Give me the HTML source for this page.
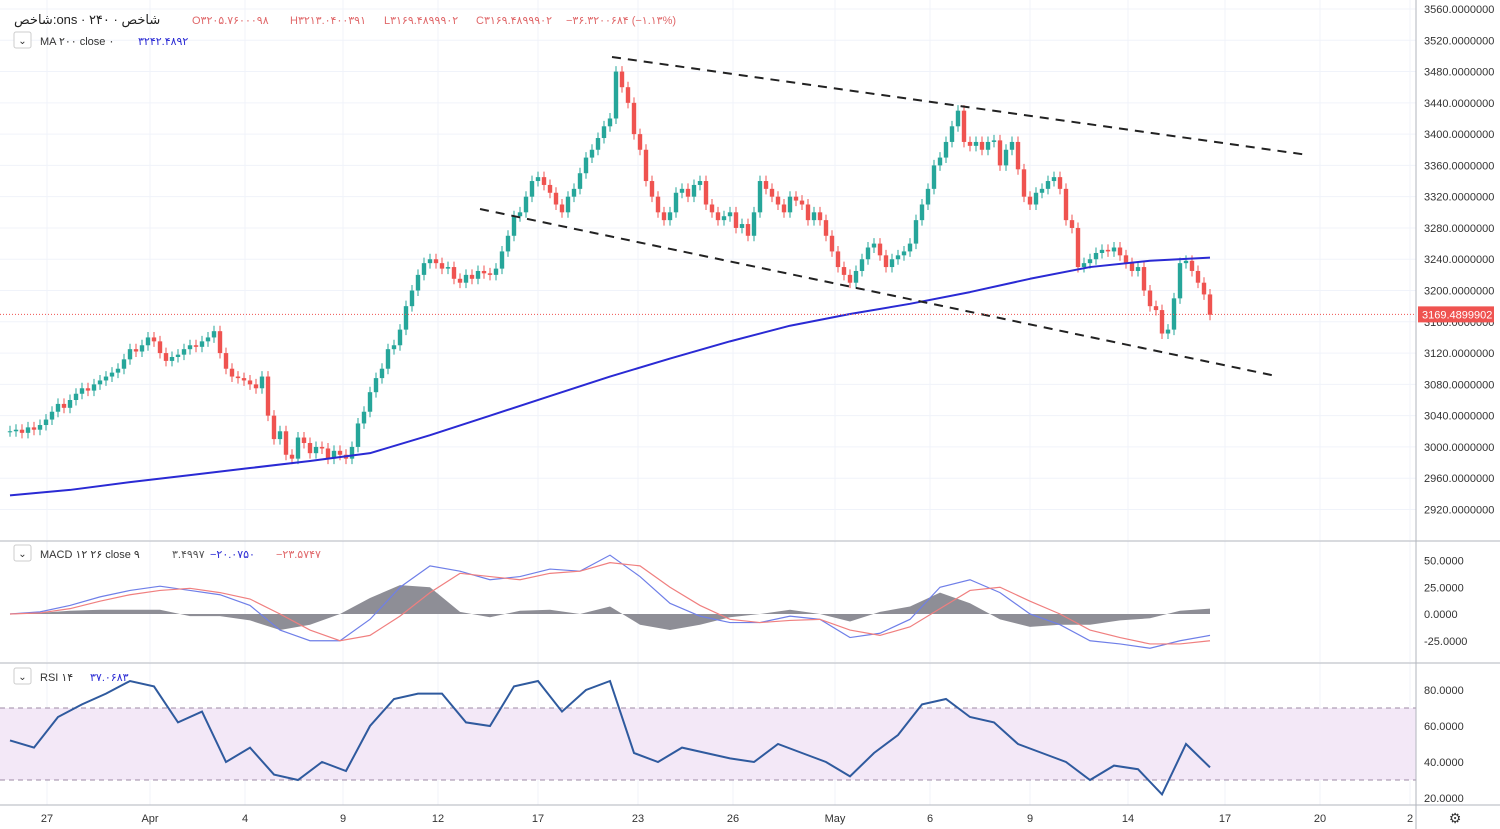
<!DOCTYPE html>
<html><head><meta charset="utf-8"><style>
body{margin:0;background:#fff;font-family:"Liberation Sans","DejaVu Sans",sans-serif;}
#c{position:absolute;left:0;top:0}
</style></head><body>
<svg id="c" width="1500" height="829" xmlns="http://www.w3.org/2000/svg" font-family="Liberation Sans, DejaVu Sans, sans-serif"></svg>
<script>
const closes=[3020,3022,3018,3025,3022,3028,3035,3045,3055,3050,
3060,3068,3075,3072,3080,3085,3090,3095,3100,3112,
3125,3122,3130,3140,3135,3120,3110,3115,3118,3125,
3130,3128,3135,3140,3148,3120,3100,3090,3088,3085,
3080,3075,3090,3040,3010,3020,2990,2985,3012,3005,
2992,3000,2998,2985,2995,2990,2985,3000,3030,3045,
3070,3088,3100,3125,3130,3150,3180,3200,3220,3235,
3240,3235,3228,3230,3215,3210,3220,3215,3225,3222,
3220,3228,3250,3270,3295,3300,3320,3340,3345,3335,
3325,3310,3300,3320,3330,3350,3370,3380,3395,3410,
3420,3480,3460,3440,3400,3380,3340,3320,3300,3290,
3300,3325,3330,3320,3335,3340,3310,3300,3290,3295,
3300,3280,3285,3270,3300,3340,3330,3320,3310,3300,
3320,3315,3310,3290,3300,3290,3270,3250,3230,3220,
3210,3225,3240,3255,3260,3245,3230,3240,3245,3250,
3260,3290,3310,3330,3360,3370,3390,3410,3430,3390,
3385,3390,3380,3390,3392,3360,3380,3390,3355,3320,
3310,3325,3330,3340,3345,3330,3290,3280,3230,3235,
3240,3248,3252,3250,3255,3245,3235,3225,3230,3200,
3180,3175,3145,3150,3190,3235,3238,3225,3210,3195,3169];
const maValues=[2938,2945,2955,2964,2973,2982,2992,3015,3040,3065,3090,3113,3135,3155,3170,3183,3198,3215,3230,3238,3242];
const macdValues=[0,2,8,16,22,26,22,18,8,-15,-25,-25,-5,25,45,40,32,35,42,40,55,35,10,-2,-8,-8,-2,-5,-22,-18,-5,25,32,20,0,-10,-25,-28,-32,-25,-20];
const signalValues=[0,1,5,12,18,22,24,20,14,0,-15,-25,-20,-2,20,38,35,32,38,40,48,45,25,8,-5,-8,-6,-5,-15,-20,-12,5,22,25,12,0,-15,-22,-28,-28,-25];
const rsiValues=[52,48,65,72,78,85,82,62,68,40,48,33,30,40,35,60,75,78,78,62,60,82,85,68,80,85,45,40,48,45,42,40,50,45,40,32,45,55,72,75,65,62,50,45,40,30,38,36,22,50,37];
const priceTicks=[3560,3520,3480,3440,3400,3360,3320,3280,3240,3200,3160,3120,3080,3040,3000,2960,2920];
const macdTicks=[50,25,0,-25];
const rsiTicks=[80,60,40,20];
const dateLabels=["27","Apr","4","9","12","17","23","26","May","6","9","14","17","20","2"];
const dateX=[47,150,245,343,438,538,638,733,835,930,1030,1128,1225,1320,1410];

const svg=document.getElementById('c');
const NS='http://www.w3.org/2000/svg';
function mk(t,a,p){const e=document.createElementNS(NS,t);for(const k in a)e.setAttribute(k,a[k]);(p||svg).appendChild(e);return e;}
const X=i=>10+6*i;
const Y=v=>9+(3560-v)*0.782;
const MY=v=>614-v*1.07;
const RY=v=>690+(80-v)*1.8;

priceTicks.forEach(v=>{const l=mk('line',{x1:0,x2:1416,y1:Y(v),y2:Y(v),stroke:'#f0f3fa'});

});
dateX.forEach(x=>{[[0,540],[541,662],[663,805]].forEach(r=>{const l=mk('line',{x1:x,x2:x,y1:r[0],y2:r[1],stroke:'#f0f3fa'});

});});
const band=mk('rect',{x:0,y:RY(70),width:1416,height:RY(30)-RY(70),fill:'#f3e8f7'});


[70,30].forEach(v=>{const l=mk('line',{x1:0,x2:1416,y1:RY(v),y2:RY(v),stroke:'#9c8aa6','stroke-dasharray':'5,4'});

});
[541,663,805].forEach(y=>{const l=mk('line',{x1:0,x2:1500,y1:y,y2:y,stroke:'#b2b5be'});

});
const ax=mk('line',{x1:1416,x2:1416,y1:0,y2:829,stroke:'#b2b5be'});



closes.forEach((c,i)=>{const o=i?closes[i-1]:c;const up=c>=o;const col=up?'#26a69a':'#ef5350';
const g=mk('g',{});


mk('line',{x1:X(i),x2:X(i),y1:Y(Math.max(o,c)+7),y2:Y(Math.min(o,c)-7),stroke:col,'stroke-width':1},g);
const t=Y(Math.max(o,c)),b=Y(Math.min(o,c));
mk('rect',{x:X(i)-2.2,y:t,width:4.4,height:Math.max(1,b-t),fill:col},g);});
const ma=mk('polyline',{points:maValues.map((v,k)=>X(k*10)+','+Y(v)).join(' '),fill:'none',stroke:'#2a2ad4','stroke-width':2,'stroke-linejoin':'round'});


const t1=mk('line',{x1:612,y1:57,x2:1308,y2:155,stroke:'#222','stroke-width':2,'stroke-dasharray':'9,7'});


const t2=mk('line',{x1:480,y1:209,x2:1276,y2:376,stroke:'#222','stroke-width':2,'stroke-dasharray':'9,7'});


const lp=mk('line',{x1:0,x2:1416,y1:Y(3169.49),y2:Y(3169.49),stroke:'#ef5350','stroke-dasharray':'1,2'});



let hp='M'+X(0)+','+MY(0);
macdValues.forEach((v,k)=>{hp+=' L'+X(k*5)+','+MY(v-signalValues[k]);});
hp+=' L'+X(200)+','+MY(0)+' Z';
const hist=mk('path',{d:hp,fill:'#8e8e96'});


const ml=mk('polyline',{points:macdValues.map((v,k)=>X(k*5)+','+MY(v)).join(' '),fill:'none',stroke:'#6f7fe8','stroke-width':1.2});


const sl=mk('polyline',{points:signalValues.map((v,k)=>X(k*5)+','+MY(v)).join(' '),fill:'none',stroke:'#f07f7f','stroke-width':1.2});


const rl=mk('polyline',{points:rsiValues.map((v,k)=>X(k*4)+','+RY(v)).join(' '),fill:'none',stroke:'#2f5a9e','stroke-width':2});



function txt(x,y,s,a,p){const e=mk('text',Object.assign({x:x,y:y,'font-size':11,fill:'#333'},a||{}),p);e.textContent=s;return e;}
priceTicks.forEach(v=>{const e=txt(1424,Y(v)+4,v.toFixed(7));

});
macdTicks.forEach(v=>{const e=txt(1424,MY(v)+4,v.toFixed(4));

});
rsiTicks.forEach(v=>{const e=txt(1424,RY(v)+4,v.toFixed(4));

});
dateLabels.forEach((s,k)=>{const e=txt(dateX[k],822,s,{'text-anchor':'middle'});

});
const tag=mk('rect',{x:1418,y:Y(3169.49)-8,width:76,height:16,fill:'#ef5350'});


const tt=txt(1422,Y(3169.49)+4,'3169.4899902',{fill:'#fff'});


const gear=txt(1455,823,'⚙',{'font-size':14,'text-anchor':'middle'});



const h=txt(14,24,'شاخص:ons · ۲۴۰ · شاخص',{'font-size':13,fill:'#222',direction:'ltr'});


const ohlc=[['O','۳۲۰۵.۷۶۰۰۰۹۸',192],['H','۳۲۱۳.۰۴۰۰۳۹۱',290],['L','۳۱۶۹.۴۸۹۹۹۰۲',384],['C','۳۱۶۹.۴۸۹۹۹۰۲',476],['','−۳۶.۳۲۰۰۶۸۴ (−۱.۱۳%)',566]];
ohlc.forEach(a=>{const e=txt(a[2],24,a[0]+a[1],{'font-size':11,fill:'#e0686a'});

});
function legendRow(y,label,vals,name){
const b=mk('rect',{x:14,y:y-11,width:17,height:16,rx:2,fill:'#fff',stroke:'#ccc'});


const ch=txt(22.5,y+1,'⌄',{'font-size':10,'text-anchor':'middle'});


const l=txt(40,y+2,label,{'font-size':11});


vals.forEach(v=>{const e=txt(v[1],y+2,v[0],{'font-size':11,fill:v[2]});

});}
legendRow(43,'MA ۲۰۰ close ۰',[['۳۲۴۲.۴۸۹۲',138,'#2a2ad4']],'ma-legend');
legendRow(556,'MACD ۱۲ ۲۶ close ۹',[['۳.۴۹۹۷',172,'#555'],['−۲۰.۰۷۵۰',210,'#2a2ad4'],['−۲۳.۵۷۴۷',276,'#e0686a']],'macd-legend');
legendRow(679,'RSI ۱۴',[['۳۷.۰۶۸۳',90,'#2a2ad4']],'rsi-legend');
</script>
</body></html>
